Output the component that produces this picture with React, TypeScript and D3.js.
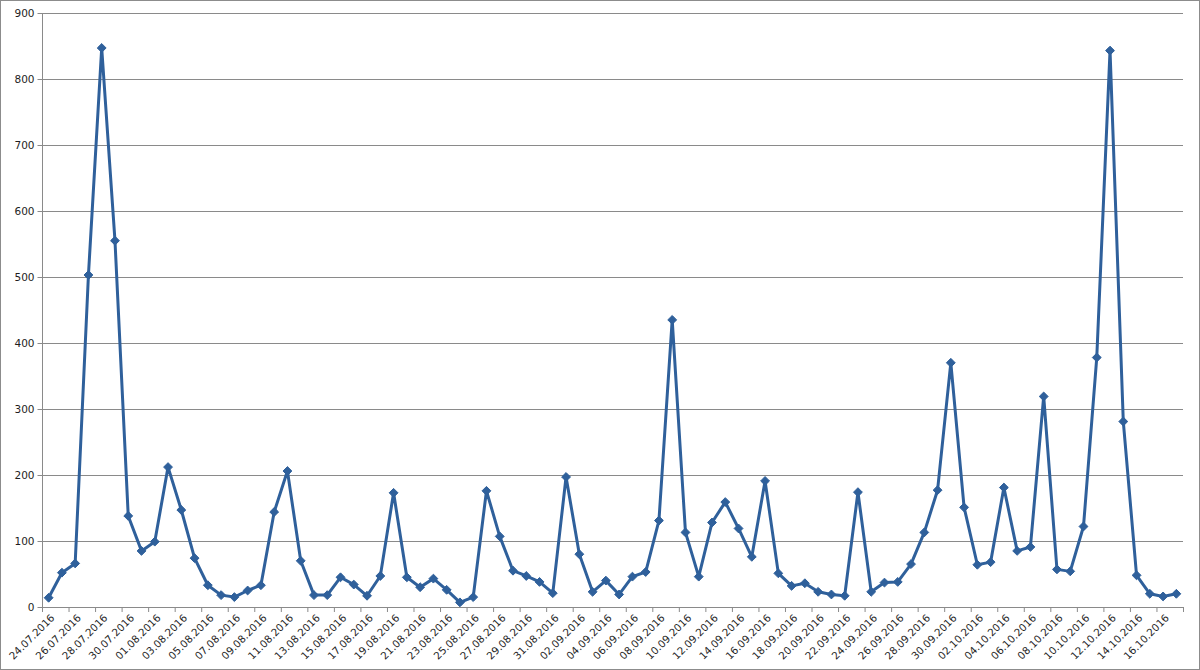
import { useEffect, useRef } from "react";
import * as d3 from "d3";

// daily values, 24.07.2016 .. 17.10.2016
const startDate = new Date(2016, 6, 24);
const values = [
  14, 52, 66, 503, 847, 555, 138, 85, 99, 212,
  147, 74, 33, 18, 15, 25, 33, 144, 206, 70,
  18, 18, 45, 34, 17, 47, 173, 45, 30, 43,
  26, 7, 15, 176, 107, 55, 47, 38, 21, 197,
  80, 23, 40, 19, 46, 53, 131, 435, 113, 46,
  128, 159, 119, 76, 191, 51, 32, 36, 23, 19,
  17, 174, 23, 37, 38, 65, 113, 177, 370, 151,
  64, 68, 181, 85, 91, 319, 57, 54, 122, 378,
  843, 281, 48, 20, 16, 20,
];
const yTicks = [0, 100, 200, 300, 400, 500, 600, 700, 800, 900];

const fmt = d3.timeFormat("%d.%m.%Y");
const dates = values.map((_, i) => fmt(d3.timeDay.offset(startDate, i)));

export default function App() {
  const svgRef = useRef<SVGSVGElement>(null);

  useEffect(() => {
    document.body.style.margin = "0";
    if (!svgRef.current) return;

    const width = 1200;
    const height = 670;
    const left = 42;
    const right = 1183;
    const top = 13;
    const bottom = 607;

    const svg = d3.select(svgRef.current);
    svg.selectAll("*").remove();

    svg
      .append("rect")
      .attr("x", 0.5)
      .attr("y", 0.5)
      .attr("width", width - 1)
      .attr("height", height - 1)
      .attr("fill", "#fff")
      .attr("stroke", "#8c8c8c");

    const x = d3.scaleBand<string>().domain(dates).range([left, right]).padding(0);
    const cx = (d: string) => (x(d) ?? 0) + x.bandwidth() / 2;
    const y = d3.scaleLinear().domain([0, 900]).range([bottom, top]);

    // gridlines
    svg
      .append("g")
      .selectAll("line")
      .data(yTicks.filter((t) => t > 0))
      .enter()
      .append("line")
      .attr("x1", left)
      .attr("x2", right)
      .attr("y1", (d) => y(d) + 0.5)
      .attr("y2", (d) => y(d) + 0.5)
      .attr("stroke", "#8a8a8a")
      .attr("stroke-width", 1);

    // y axis
    const yAxis = svg.append("g").attr("transform", `translate(${left + 0.5},0)`);
    yAxis
      .append("line")
      .attr("y1", top)
      .attr("y2", bottom)
      .attr("stroke", "#8a8a8a");
    yAxis
      .selectAll("line.tick")
      .data(yTicks)
      .enter()
      .append("line")
      .attr("class", "tick")
      .attr("x1", -5)
      .attr("x2", 0)
      .attr("y1", (d) => y(d) + 0.5)
      .attr("y2", (d) => y(d) + 0.5)
      .attr("stroke", "#8a8a8a");
    yAxis
      .selectAll("text")
      .data(yTicks)
      .enter()
      .append("text")
      .attr("x", -8)
      .attr("y", (d) => y(d) + 4)
      .attr("text-anchor", "end")
      .attr("font-family", "DejaVu Sans, Verdana, sans-serif")
      .attr("font-size", 10.5)
      .attr("fill", "#1e1e1e")
      .text((d) => d);

    // x axis
    const xAxis = svg.append("g");
    xAxis
      .append("line")
      .attr("x1", left)
      .attr("x2", right)
      .attr("y1", bottom + 0.5)
      .attr("y2", bottom + 0.5)
      .attr("stroke", "#8a8a8a");
    const tickDates = dates.filter((_, i) => i % 2 === 0);
    xAxis
      .selectAll("line.tick")
      .data([...tickDates, "end"])
      .enter()
      .append("line")
      .attr("class", "tick")
      .attr("x1", (d) => (d === "end" ? right : x(d) ?? 0) + 0.5)
      .attr("x2", (d) => (d === "end" ? right : x(d) ?? 0) + 0.5)
      .attr("y1", bottom)
      .attr("y2", bottom + 5)
      .attr("stroke", "#8a8a8a");
    xAxis
      .selectAll("text")
      .data(tickDates)
      .enter()
      .append("text")
      .attr("transform", (d) => `translate(${cx(d) + 4},${bottom + 9}) rotate(-45)`)
      .attr("text-anchor", "end")
      .attr("dy", "0.35em")
      .attr("font-family", "DejaVu Sans, Verdana, sans-serif")
      .attr("font-size", 10.3)
      .attr("fill", "#1e1e1e")
      .text((d) => d);

    // line
    const line = d3
      .line<number>()
      .x((_, i) => cx(dates[i]))
      .y((d) => y(d));
    svg
      .append("path")
      .datum(values)
      .attr("d", line)
      .attr("fill", "none")
      .attr("stroke", "#2f609b")
      .attr("stroke-width", 3)
      .attr("stroke-linejoin", "round");

    // diamond markers
    const diamond = d3.symbol().type(d3.symbolDiamond2).size(50);
    svg
      .append("g")
      .selectAll("path")
      .data(values)
      .enter()
      .append("path")
      .attr("d", diamond)
      .attr("transform", (d, i) => `translate(${cx(dates[i])},${y(d)})`)
      .attr("fill", "#2f609b")
      .attr("stroke", "#2f609b")
      .attr("stroke-width", 1);
  }, []);

  return <svg ref={svgRef} width={1200} height={670} style={{ display: "block" }} />;
}
